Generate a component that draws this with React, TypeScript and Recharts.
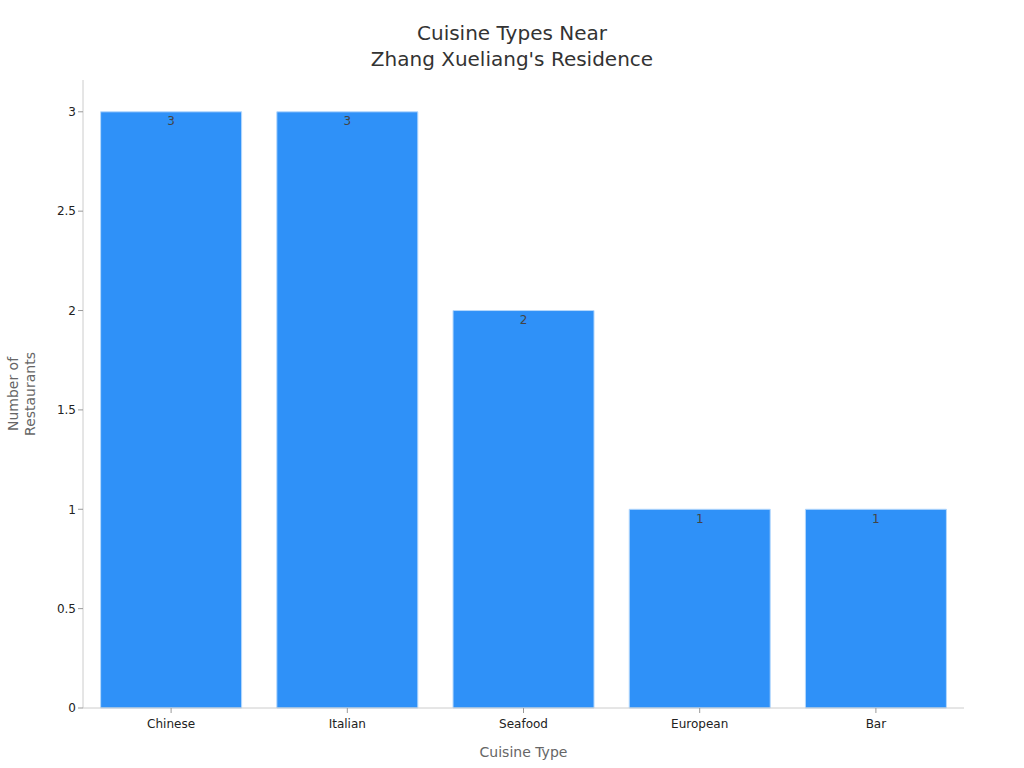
import React from "react";
import { BarChart, Bar, XAxis, YAxis, LabelList, Label } from "recharts";

const categories = ["Chinese", "Italian", "Seafood", "European", "Bar"];
const counts = [3, 3, 2, 1, 1];
const yTicks = [0, 0.5, 1, 1.5, 2, 2.5, 3];

const data = categories.map((c, i) => ({ cuisine: c, count: counts[i] }));

const FONT = "'DejaVu Sans', sans-serif";

const YLabel = (props: any) => {
  const vb = props.viewBox || {};
  const cx = 22;
  const cy = vb.y + vb.height / 2;
  return (
    <text
      transform={`translate(${cx},${cy}) rotate(-90)`}
      textAnchor="middle"
      fill="#666"
      fontSize={14}
      fontFamily={FONT}
    >
      <tspan x={0} dy={-4}>Number of</tspan>
      <tspan x={0} dy={17}>Restaurants</tspan>
    </text>
  );
};

export default function App() {
  return (
    <div style={{ position: "absolute", left: 0, top: 0, width: 1024, height: 768, background: "#fff", fontFamily: FONT }}>
      <div
        style={{
          position: "absolute",
          top: 20,
          left: 0,
          width: 1024,
          textAlign: "center",
          fontSize: 20,
          lineHeight: "26px",
          color: "#333",
          fontFamily: FONT,
        }}
      >
        Cuisine Types Near
        <br />
        Zhang Xueliang's Residence
      </div>
      <BarChart
        width={1024}
        height={768}
        data={data}
        margin={{ top: 80, right: 60, bottom: 0, left: 1 }}
        barCategoryGap="10%"
      >
        <XAxis
          dataKey="cuisine"
          height={60}
          stroke="#ccc"
          tickLine={{ stroke: "#999" }}
          tickSize={5}
          tickMargin={6}
          tick={{ fill: "#222", fontSize: 12, fontFamily: FONT }}
        >
          <Label value="Cuisine Type" position="insideBottom" offset={11} fill="#666" fontSize={14} fontFamily={FONT} />
        </XAxis>
        <YAxis
          width={82}
          domain={[0, 3.16]}
          ticks={yTicks}
          interval={0}
          stroke="#ccc"
          tickLine={{ stroke: "#999" }}
          tickSize={5}
          tick={{ fill: "#222", fontSize: 12, fontFamily: FONT }}
        >
          <Label content={<YLabel />} />
        </YAxis>
        <Bar dataKey="count" fill="#2f91f8" stroke="#b5d8fc" strokeWidth={1} isAnimationActive={false}>
          <LabelList dataKey="count" position="insideTop" offset={5} fill="#444" fontSize={12} fontFamily={FONT} />
        </Bar>
      </BarChart>
    </div>
  );
}
